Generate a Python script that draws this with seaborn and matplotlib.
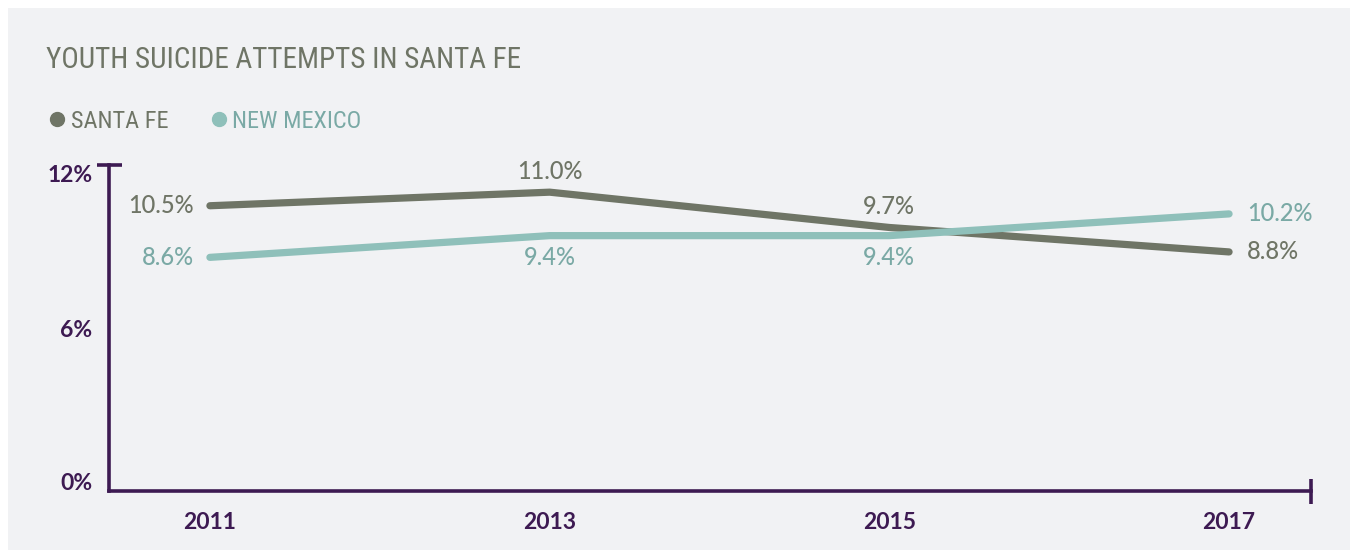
import matplotlib
matplotlib.use("Agg")
import matplotlib.pyplot as plt
from matplotlib.lines import Line2D
from matplotlib.patches import Rectangle
import matplotlib.transforms as mtrans
import seaborn as sns
import pandas as pd

years = [2011, 2013, 2015, 2017]
santa_fe = [10.5, 11.0, 9.7, 8.8]
new_mexico = [8.6, 9.4, 9.4, 10.2]
series_names = ["SANTA FE", "NEW MEXICO"]
y_ticks = [0, 6, 12]
y_tick_labels = ["0%", "6%", "12%"]
title = "YOUTH SUICIDE ATTEMPTS IN SANTA FE"

SF_C = "#6f7566"
NM_C = "#8fc0ba"
NM_TXT = "#7aa9a5"
PURPLE = "#3d1a52"
BG = "#f1f2f4"

df = pd.DataFrame({
    "year": years * 2,
    "value": santa_fe + new_mexico,
    "series": [series_names[0]] * 4 + [series_names[1]] * 4,
})

sns.set_theme(style="white")
plt.rcParams["font.family"] = ["Lato", "DejaVu Sans"]

W, H = 1357, 558
fig = plt.figure(figsize=(W / 100, H / 100), dpi=100, facecolor="white")
fig.patches.append(Rectangle((8 / W, 8 / H), (1350 - 8) / W, (550 - 8) / H,
                             transform=fig.transFigure, facecolor=BG, edgecolor="none", zorder=-10))

ax_l, ax_r, ax_t, ax_b = 109, 1311, 165, 491
ax = fig.add_axes([ax_l / W, 1 - ax_b / H, (ax_r - ax_l) / W, (ax_b - ax_t) / H])
ax.set_facecolor("none")

sns.lineplot(data=df, x="year", y="value", hue="series",
             palette={series_names[0]: SF_C, series_names[1]: NM_C},
             linewidth=5.2, legend=False, ax=ax)
for ln in ax.get_lines():
    ln.set_solid_capstyle("round")
ax.get_lines()[1].set_zorder(3)

x0 = 2011 - 101 / 170
x1 = 2017 + 82 / 170
ax.set_xlim(x0, x1)
ax.set_ylim(0, 12)

for s in ["top", "right"]:
    ax.spines[s].set_visible(False)
for s in ["left", "bottom"]:
    ax.spines[s].set_color(PURPLE)
    ax.spines[s].set_linewidth(2.6)

ax.set_yticks(y_ticks)
ax.set_yticklabels(y_tick_labels)
ax.set_xticks(years)
ax.set_xticklabels([str(y) for y in years])
ax.tick_params(axis="both", which="major", length=0, colors=PURPLE)
ax.tick_params(axis="y", pad=12, labelsize=16.5)
ax.tick_params(axis="x", pad=15, labelsize=16.5)
for lab in ax.get_xticklabels() + ax.get_yticklabels():
    lab.set_fontweight("bold")
ax.set_xlabel("")
ax.set_ylabel("")

# end caps
ax.yaxis.remove_overlapping_locs = False
ax.xaxis.remove_overlapping_locs = False
ax.set_yticks([12], minor=True)
ax.set_xticks([x1], minor=True)
ax.tick_params(axis="both", which="minor", direction="inout", length=18,
               width=2.6, color=PURPLE, left=True, bottom=True,
               labelleft=False, labelbottom=False)
ax.yaxis.set_minor_formatter(plt.NullFormatter())
ax.xaxis.set_minor_formatter(plt.NullFormatter())

# y tick labels shifted as in the reference
shifts = {"0%": 9, "6%": 0, "12%": -8}
for lab in ax.get_yticklabels():
    off = mtrans.ScaledTranslation(0, shifts.get(lab.get_text(), 0) / 100, fig.dpi_scale_trans)
    lab.set_transform(lab.get_transform() + off)

# data labels
fs = 17
def lbl(x, y, txt, color, dx, dy, ha):
    ax.annotate(txt, (x, y), xytext=(dx, dy), textcoords="offset pixels",
                ha=ha, va="center", color=color, fontsize=fs, fontweight="medium")

lbl(years[0], santa_fe[0], f"{santa_fe[0]:.1f}%", SF_C, -16, 0, "right")
lbl(years[0], new_mexico[0], f"{new_mexico[0]:.1f}%", NM_TXT, -16, 0, "right")
lbl(years[1], santa_fe[1], f"{santa_fe[1]:.1f}%", SF_C, 0, 21, "center")
lbl(years[1], new_mexico[1], f"{new_mexico[1]:.1f}%", NM_TXT, 0, -22, "center")
lbl(years[2], santa_fe[2], f"{santa_fe[2]:.1f}%", SF_C, 0, 21, "center")
lbl(years[2], new_mexico[2], f"{new_mexico[2]:.1f}%", NM_TXT, 0, -22, "center")
lbl(years[3], new_mexico[3], f"{new_mexico[3]:.1f}%", NM_TXT, 18, 0, "left")
lbl(years[3], santa_fe[3], f"{santa_fe[3]:.1f}%", SF_C, 18, 0, "left")

cond = ["Roboto Condensed", "Liberation Sans Narrow", "DejaVu Sans"]
fig.text(46 / W, 1 - 60 / H, title, color=SF_C, fontsize=21, family=cond,
         fontstretch="condensed", va="center", ha="left")

handles = [Line2D([], [], marker="o", linestyle="none", color=SF_C, markersize=10),
           Line2D([], [], marker="o", linestyle="none", color=NM_C, markersize=10)]
leg = fig.legend(handles, series_names, loc="center left",
                 bbox_to_anchor=(28 / W, 1 - 121 / H), ncol=2, frameon=False,
                 handlelength=0.6, handletextpad=0.25, columnspacing=1.8,
                 prop={"family": cond, "size": 17.5, "stretch": "condensed"},
                 labelcolor=[SF_C, NM_TXT])

fig.savefig("out.png", dpi=100, facecolor="white")
